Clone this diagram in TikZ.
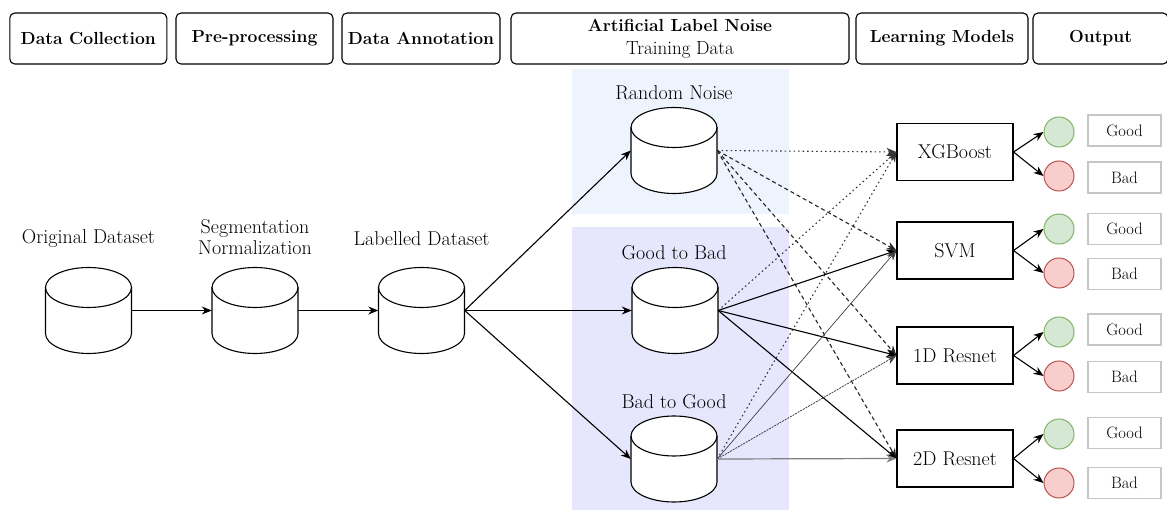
\documentclass[tikz,border=0pt]{standalone}
\usetikzlibrary{arrows.meta,calc}
\definecolor{bluebg}{RGB}{237,244,254}
\definecolor{purplebg}{RGB}{230,230,253}
\definecolor{gfill}{HTML}{D5E8D4}
\definecolor{gline}{HTML}{82B366}
\definecolor{rfill}{HTML}{F8CECC}
\definecolor{rline}{HTML}{B85450}
\tikzset{
  hdr/.style={draw, rounded corners=5pt, line width=1.1pt, align=center, inner sep=0pt,
    font=\fontsize{17.5}{23}\selectfont\bfseries, minimum height=51pt},
  lbl/.style={align=center, inner sep=0pt, font=\fontsize{20}{21}\selectfont},
  cylbox/.style={draw=none, inner sep=0pt, minimum width=86pt, minimum height=86pt},
  cylline/.style={line width=1.1pt, black},
  model/.style={draw, line width=1.1pt, minimum width=116pt, minimum height=57pt, inner sep=0pt,
    font=\fontsize{20}{23}\selectfont},
  goodc/.style={circle, draw=gline, fill=gfill, line width=1pt, minimum size=30pt, inner sep=0pt},
  badc/.style={circle, draw=rline, fill=rfill, line width=1pt, minimum size=30pt, inner sep=0pt},
  outbox/.style={draw=gray!45, line width=1.5pt, minimum width=73pt, minimum height=31pt, inner sep=0pt,
    font=\fontsize{16.5}{19}\selectfont},
  arr/.style={-{Stealth[length=10pt,width=8pt]}, line width=1.1pt},
  dotline/.style={arr, draw=black!80, dash pattern=on 1.5pt off 3pt},
  dashline/.style={arr, draw=black!85, dash pattern=on 4pt off 3pt},
  thinline/.style={arr, draw=black!75, line width=0.7pt},
  finedash/.style={arr, draw=black!75, line width=0.8pt, dash pattern=on 2pt off 1pt},
  grayline/.style={arr, draw=black!50, line width=1.2pt},
}
\newcommand\dbcyl[2]{%
  \node[cylbox] (#1) at (#2) {};
  \fill[white] ($(#1)+(-43,-23)$) rectangle ($(#1)+(43,23)$);
  \fill[white] ($(#1)+(0,23)$) ellipse [x radius=43, y radius=20];
  \filldraw[cylline, fill=white] ($(#1)+(0,-23)$) ellipse [x radius=43, y radius=20];
  \draw[cylline] ($(#1)+(-43,-23)$) -- ($(#1)+(-43,23)$)
     .. controls ($(#1)+(-43,34)$) and ($(#1)+(-23.7,43)$) .. ($(#1)+(0,43)$)
     .. controls ($(#1)+(23.7,43)$) and ($(#1)+(43,34)$) .. ($(#1)+(43,23)$)
     -- ($(#1)+(43,-23)$);
}
\begin{document}
\begin{tikzpicture}[x=1pt,y=-1pt]
\useasboundingbox (0,0) rectangle (1167,510);
\fill[white] (0,0) rectangle (1167,510);
% background regions
\fill[bluebg] (572,69) rectangle (789,214);
\fill[purplebg] (572,227) rectangle (789,510);
% headers
\node[hdr, minimum width=157pt] (h1) at (88.3,38.5) {Data Collection};
\node[hdr, minimum width=157pt] (h2) at (254.5,38.5) {Pre-processing};
\node[hdr, minimum width=158pt] (h3) at (421,38.5) {Data Annotation};
\node[hdr, minimum width=338pt] (h4) at (680,38.5) {Artificial Label Noise\\\fontsize{19}{23}\selectfont\mdseries Training Data};
\node[hdr, minimum width=172pt] (h5) at (942,38.5) {Learning Models};
\node[hdr, minimum width=135pt] (h6) at (1100.5,38.5) {Output};
% cylinders
\dbcyl{orig}{88.5,310.5}
\dbcyl{seg}{255,310.5}
\dbcyl{lab}{421.5,310.5}
\dbcyl{rn}{674,150.5}
\dbcyl{gb}{675,310.5}
\dbcyl{bg}{674,459}
% labels
\node[lbl] (lorig) at (88.5,239) {Original Dataset};
\node[lbl] (lseg) at (255,237.5) {Segmentation\\Normalization};
\node[lbl] (llab) at (421.5,239) {Labelled Dataset};
\node[lbl] (lrn) at (674,93) {Random Noise};
\node[lbl] (lgb) at (674,253) {Good to Bad};
\node[lbl] (lbg) at (674,402) {Bad to Good};
% models
\node[model] (xgb) at (955,152) {XGBoost};
\node[model] (svm) at (955,250.5) {SVM};
\node[model] (r1) at (955,355.5) {1D Resnet};
\node[model] (r2) at (955,458.5) {2D Resnet};
% outputs
\node[goodc] (g1) at (1059,132) {};
\node[badc] (b1) at (1059,176) {};
\node[goodc] (g2) at (1059,229) {};
\node[badc] (b2) at (1059,273) {};
\node[goodc] (g3) at (1059,332) {};
\node[badc] (b3) at (1059,376) {};
\node[goodc] (g4) at (1059,434) {};
\node[badc] (b4) at (1059,483) {};
\node[outbox] (tg1) at (1124.5,130.5) {Good};
\node[outbox] (tb1) at (1124.5,177.5) {Bad};
\node[outbox] (tg2) at (1124.5,229) {Good};
\node[outbox] (tb2) at (1124.5,274) {Bad};
\node[outbox] (tg3) at (1124.5,329.7) {Good};
\node[outbox] (tb3) at (1124.5,377) {Bad};
\node[outbox] (tg4) at (1124.5,433) {Good};
\node[outbox] (tb4) at (1124.5,483) {Bad};
% pipeline arrows
\draw[arr] (orig.east) -- (seg.west);
\draw[arr] (seg.east) -- (lab.west);
\draw[arr] (lab.east) -- (rn.west);
\draw[arr] (lab.east) -- (gb.west);
\draw[arr] (lab.east) -- (bg.west);
% noise to models
\draw[dotline] (rn.east) -- (xgb.west);
\draw[dashline] (rn.east) -- (svm.west);
\draw[dashline] (rn.east) -- (r1.west);
\draw[dashline] (rn.east) -- (r2.west);
\draw[dotline] (gb.east) -- (xgb.west);
\draw[arr] (gb.east) -- (svm.west);
\draw[arr] (gb.east) -- (r1.west);
\draw[arr] (gb.east) -- (r2.west);
\draw[dotline] (bg.east) -- (xgb.west);
\draw[thinline] (bg.east) -- (svm.west);
\draw[finedash] (bg.east) -- (r1.west);
\draw[grayline] (bg.east) -- (r2.west);
% models to outputs
\draw[arr] (xgb.east) -- (g1.west);
\draw[arr] (xgb.east) -- (b1.west);
\draw[arr] (svm.east) -- (g2.west);
\draw[arr] (svm.east) -- (b2.west);
\draw[arr] (r1.east) -- (g3.west);
\draw[arr] (r1.east) -- (b3.west);
\draw[arr] (r2.east) -- (g4.west);
\draw[arr] (r2.east) -- (b4.west);
\end{tikzpicture}
\end{document}
